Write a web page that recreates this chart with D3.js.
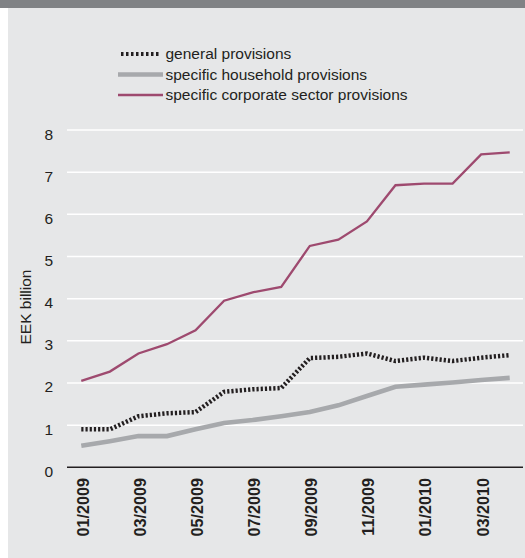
<!DOCTYPE html>
<html>
<head>
<meta charset="utf-8">
<script src="https://cdn.jsdelivr.net/npm/d3@7"></script>
<style>
  body { margin: 0; background: #ffffff; }
  svg { display: block; font-family: "Liberation Sans", Arial, Helvetica, sans-serif; }
</style>
</head>
<body>
<div id="chart"></div>
<script>
// Month labels (x axis categories)
const months = ["01/2009", "02/2009", "03/2009", "04/2009", "05/2009", "06/2009",
  "07/2009", "08/2009", "09/2009", "10/2009", "11/2009", "12/2009",
  "01/2010", "02/2010", "03/2010", "04/2010"];

// Values in EEK billion
const generalProvisions = [0.90, 0.90, 1.21, 1.28, 1.31, 1.79, 1.85, 1.88,
  2.59, 2.62, 2.70, 2.52, 2.60, 2.52, 2.60, 2.66];
const householdProvisions = [0.51, 0.62, 0.74, 0.74, 0.90, 1.05, 1.12, 1.21,
  1.31, 1.47, 1.69, 1.91, 1.96, 2.01, 2.07, 2.12];
const corporateProvisions = [2.05, 2.27, 2.70, 2.92, 3.25, 3.95, 4.15, 4.28,
  5.25, 5.40, 5.83, 6.69, 6.73, 6.73, 7.42, 7.47];

const yTicks = [0, 1, 2, 3, 4, 5, 6, 7, 8];
const xTickLabels = ["01/2009", "03/2009", "05/2009", "07/2009", "09/2009",
  "11/2009", "01/2010", "03/2010"];

const seriesNames = ["general provisions", "specific household provisions",
  "specific corporate sector provisions"];

const width = 525, height = 558;

const svg = d3.select("#chart").append("svg")
  .attr("width", width)
  .attr("height", height);

// panel background and top bar
svg.append("rect").attr("x", 8).attr("y", 0).attr("width", width - 8).attr("height", height)
  .attr("fill", "#e6e7e8");
svg.append("rect").attr("x", 0).attr("y", 0).attr("width", width).attr("height", 8)
  .attr("fill", "#808285");

const x = d3.scalePoint().domain(months).range([67, 524]).padding(0.5);
const y = d3.scaleLinear().domain([0, 8]).range([467.3, 130]);

// gridlines
svg.append("g").selectAll("line")
  .data(yTicks.filter(d => d > 0))
  .join("line")
  .attr("x1", 67).attr("x2", 523)
  .attr("y1", d => y(d)).attr("y2", d => y(d))
  .attr("stroke", "#ffffff").attr("stroke-width", 1.5);

// y tick labels
svg.append("g").selectAll("text")
  .data(yTicks)
  .join("text")
  .attr("x", 53)
  .attr("y", d => y(d) + 9.5)
  .attr("text-anchor", "end")
  .attr("font-size", 15.5)
  .attr("fill", "#231f20")
  .text(d => d);

// y axis title
svg.append("text")
  .attr("transform", "translate(31,307) rotate(-90)")
  .attr("text-anchor", "middle")
  .attr("font-size", 15.5)
  .attr("fill", "#231f20")
  .text("EEK billion");

// x axis line
svg.append("line")
  .attr("x1", 67).attr("x2", 523)
  .attr("y1", y(0)).attr("y2", y(0))
  .attr("stroke", "#231f20").attr("stroke-width", 1.5);

// x tick labels
svg.append("g").selectAll("text")
  .data(xTickLabels)
  .join("text")
  .attr("transform", d => `translate(${x(d) + 1.5},478) rotate(-90)`)
  .attr("text-anchor", "end")
  .attr("dy", "0.36em")
  .attr("font-size", 16.2)
  .attr("font-weight", "bold")
  .attr("fill", "#231f20")
  .text(d => d);

const line = d3.line()
  .x((d, i) => x(months[i]))
  .y(d => y(d));

const styles = [
  { data: generalProvisions, stroke: "#231f20", width: 4.5, dash: "2.2,2" },
  { data: householdProvisions, stroke: "#a7a9ac", width: 4.6, dash: null },
  { data: corporateProvisions, stroke: "#9e4a6f", width: 2.3, dash: null }
];

// draw household under general, corporate on top
[1, 0, 2].forEach(k => {
  const s = styles[k];
  svg.append("path")
    .datum(s.data)
    .attr("d", line)
    .attr("fill", "none")
    .attr("stroke", s.stroke)
    .attr("stroke-width", s.width)
    .attr("stroke-dasharray", s.dash);
});

// legend
const legendY = [54, 74.5, 95];
const legend = svg.append("g");
seriesNames.forEach((name, i) => {
  const s = styles[i];
  legend.append("line")
    .attr("x1", i === 0 ? 121 : 118).attr("x2", i === 0 ? 161 : 163)
    .attr("y1", legendY[i]).attr("y2", legendY[i])
    .attr("stroke", s.stroke)
    .attr("stroke-width", i === 0 ? 4 : (i === 1 ? 4.5 : 2.3))
    .attr("stroke-dasharray", i === 0 ? "2.5,2.5" : null);
  legend.append("text")
    .attr("x", 165.5)
    .attr("y", legendY[i] + 5)
    .attr("font-size", 15.5)
    .attr("fill", "#231f20")
    .text(name);
});
</script>
</body>
</html>
